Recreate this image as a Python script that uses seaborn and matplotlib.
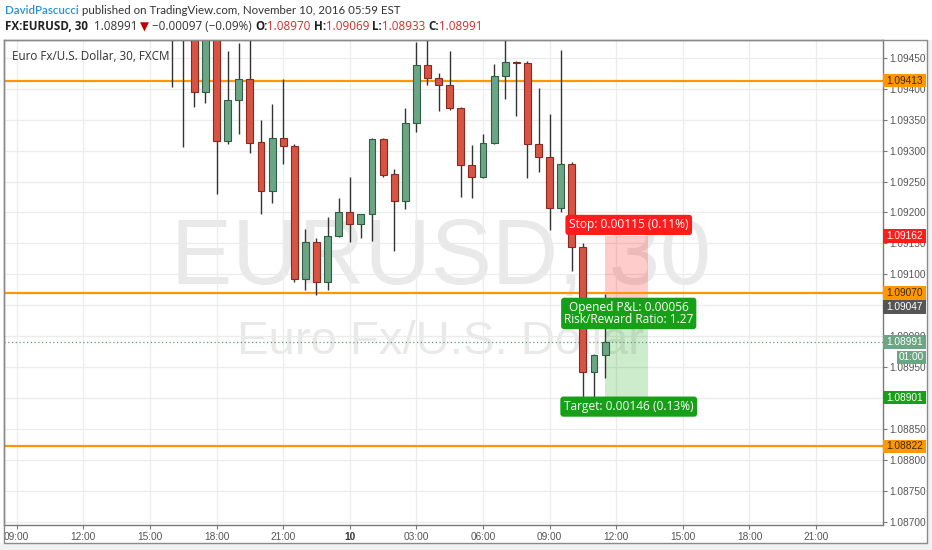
import matplotlib
matplotlib.use("Agg")
import matplotlib.pyplot as plt
import seaborn as sns
import numpy as np
import pandas as pd
from matplotlib.patches import Rectangle
from matplotlib.transforms import blended_transform_factory as blend

# ---------------- data ----------------
# 30-minute bars, index counted from Nov 9 09:00
bar_index = list(range(14, 54))
open_ = [1.09500, 1.09525, 1.09510, 1.09395, 1.09500, 1.09315, 1.09382, 1.09415,
         1.09314, 1.09234, 1.09320, 1.09308, 1.09092, 1.09153, 1.09088, 1.09162,
         1.09200, 1.09181, 1.09197, 1.09319, 1.09262, 1.09219, 1.09344, 1.09438,
         1.09417, 1.09406, 1.09369, 1.09276, 1.09258, 1.09312, 1.09421, 1.09443,
         1.09442, 1.09311, 1.09290, 1.09207, 1.09278, 1.09145, 1.08942, 1.08970]
high_ = [1.09540, 1.09545, 1.09520, 1.09510, 1.09520, 1.09461, 1.09473, 1.09482,
         1.09349, 1.09376, 1.09415, 1.09310, 1.09174, 1.09158, 1.09193, 1.09224,
         1.09258, 1.09198, 1.09320, 1.09320, 1.09271, 1.09368, 1.09475, 1.09480,
         1.09426, 1.09461, 1.09370, 1.09309, 1.09327, 1.09440, 1.09485, 1.09445,
         1.09444, 1.09401, 1.09359, 1.09462, 1.09282, 1.09150, 1.08971, 1.09069]
low_ = [1.09403, 1.09305, 1.09370, 1.09377, 1.09230, 1.09311, 1.09327, 1.09296,
        1.09198, 1.09215, 1.09278, 1.09088, 1.09074, 1.09067, 1.09074, 1.09160,
        1.09152, 1.09158, 1.09154, 1.09258, 1.09138, 1.09205, 1.09330, 1.09406,
        1.09364, 1.09365, 1.09225, 1.09223, 1.09255, 1.09310, 1.09383, 1.09356,
        1.09255, 1.09266, 1.09172, 1.09201, 1.09106, 1.08897, 1.08897, 1.08933]
close_ = [1.09525, 1.09510, 1.09395, 1.09500, 1.09315, 1.09382, 1.09415, 1.09313,
          1.09234, 1.09320, 1.09308, 1.09092, 1.09153, 1.09088, 1.09162, 1.09200,
          1.09181, 1.09197, 1.09319, 1.09260, 1.09219, 1.09344, 1.09438, 1.09417,
          1.09406, 1.09369, 1.09276, 1.09258, 1.09312, 1.09421, 1.09443, 1.09442,
          1.09311, 1.09290, 1.09207, 1.09278, 1.09145, 1.08942, 1.08970, 1.08991]

time_tick_index = [0, 6, 12, 18, 24, 30, 36, 42, 48, 54, 60, 66, 72]
time_tick_labels = ["09:00", "12:00", "15:00", "18:00", "21:00", "10", "03:00",
                    "06:00", "09:00", "12:00", "15:00", "18:00", "21:00"]
price_ticks = [1.08700, 1.08750, 1.08800, 1.08850, 1.08900, 1.08950, 1.09000,
               1.09050, 1.09100, 1.09150, 1.09200, 1.09250, 1.09300, 1.09350,
               1.09400, 1.09450]

orange_levels = [1.09413, 1.09070, 1.08822]
entry_price = 1.09047
stop_price = 1.09162
target_price = 1.08901
last_price = 1.08991
pos_start, pos_end = 52.95, 56.9
countdown = "01:00"

stop_text = "Stop: 0.00115 (0.11%)"
pnl_text = "Opened P&L: 0.00056\nRisk/Reward Ratio: 1.27"
target_text = "Target: 0.00146 (0.13%)"

# ---------------- style ----------------
sns.set_style("white")
plt.rcParams['font.family'] = ['Liberation Sans', 'DejaVu Sans']

W, H = 932, 550
fig = plt.figure(figsize=(W / 100, H / 100), dpi=100)
fig.patch.set_facecolor("white")

# plot area in pixels
PL, PR, PT, PB = 4, 882.7, 40, 525
FR, FB = 927, 543
ax = fig.add_axes([PL / W, 1 - PB / H, (PR - PL) / W, (PB - PT) / H])
ax.set_xlim(-1.144, 78.0)
ax.set_ylim(1.086952, 1.094786)

RED = "#D75442"
GREEN = "#6BA583"
RED_EDGE = "#8a2a1e"
GREEN_EDGE = "#2f5e43"

df = pd.DataFrame(dict(i=bar_index, o=open_, h=high_, l=low_, c=close_))
df["up"] = df.c >= df.o
face = np.where(df.up, GREEN, RED)
edge = np.where(df.up, GREEN_EDGE, RED_EDGE)
bottom = np.minimum(df.o, df.c)
height = np.maximum(np.abs(df.c - df.o), 0.000015)

# watermark
ax.text(0.497, 0.547, "EURUSD, 30", transform=ax.transAxes, ha="center",
        va="center", fontsize=66, color="#e9e9e9", zorder=0.5)
ax.text(0.497, 0.378, "Euro Fx/U.S. Dollar", transform=ax.transAxes, ha="center",
        va="center", fontsize=34, color="#e9e9e9", zorder=0.5)

# grid
ax.set_xticks(time_tick_index)
ax.set_yticks(price_ticks)
ax.grid(True, color="#ececec", lw=0.9)
ax.set_axisbelow(True)

# candles
ax.vlines(df.i, df.l, df.h, color="#333333", lw=1.0, zorder=3)
ax.bar(df.i, height, bottom=bottom, width=0.62, color=face, edgecolor=edge,
       lw=0.8, zorder=4)

# horizontal levels
for lv in orange_levels:
    ax.axhline(lv, color="#FF9800", lw=1.6, zorder=2.5)
ax.axhline(last_price, color="#5d9c78", lw=0.9, ls=(0, (1, 2)), zorder=2.6)

# position zones
ax.add_patch(Rectangle((pos_start, entry_price), pos_end - pos_start,
                       stop_price - entry_price, facecolor="#ff0000", alpha=0.2,
                       lw=0, zorder=2))
ax.add_patch(Rectangle((pos_start, target_price), pos_end - pos_start,
                       entry_price - target_price, facecolor="#00a000", alpha=0.2,
                       lw=0, zorder=2))

lab_x = (pos_start + pos_end) / 2 + 0.2
box_kw = dict(ha="center", va="center", color="white", fontsize=8.6,
              family=["Open Sans", "DejaVu Sans"], zorder=10,
              textcoords="offset points", annotation_clip=False)
ax.annotate(stop_text, xy=(lab_x, stop_price), xytext=(0, 8),
            bbox=dict(boxstyle="round,pad=0.3,rounding_size=0.25", fc="#ff1c1c", ec="none"),
            **box_kw)
ax.annotate(pnl_text, xy=(lab_x, entry_price), xytext=(0, -4.5), linespacing=0.95,
            bbox=dict(boxstyle="round,pad=0.25,rounding_size=0.25", fc="#17a017", ec="none"),
            **box_kw)
ax.annotate(target_text, xy=(lab_x, target_price), xytext=(0, -6.5),
            bbox=dict(boxstyle="round,pad=0.3,rounding_size=0.25", fc="#17a017", ec="none"),
            **box_kw)

# axes ticks
ax.yaxis.tick_right()
ax.set_yticklabels([f"{p:.5f}" for p in price_ticks])
ax.set_xticklabels(time_tick_labels)
ax.tick_params(axis="y", direction="out", length=3, pad=2, labelsize=7.3,
               color="#777777", labelcolor="#555555", right=True, left=False)
ax.tick_params(axis="x", direction="out", length=3, pad=2, labelsize=7.3,
               color="#777777", labelcolor="#555555", bottom=True)
for lbl in ax.get_xticklabels():
    if lbl.get_text() == "10":
        lbl.set_fontweight("bold")
        lbl.set_color("#333333")
for s in ax.spines.values():
    s.set_color("#7a7a7a")
    s.set_linewidth(1.0)

# outer frame and surrounding strip
fig.add_artist(Rectangle((0, 0), 1, (H - FB) / H, transform=fig.transFigure,
                         fc="#f0f2f4", ec="none", zorder=0.1))
fig.add_artist(Rectangle((FR / W, 0), (W - FR) / W, (H - PT) / H, transform=fig.transFigure,
                         fc="#f0f2f4", ec="none", zorder=0.1))
fig.add_artist(Rectangle((PL / W, 1 - FB / H), (FR - PL) / W, (FB - PT) / H,
                         transform=fig.transFigure, fill=False, ec="#8a8a8a", lw=1.0,
                         zorder=5))

# price axis label boxes
tr = blend(fig.transFigure, ax.transData)
ppu = (PB - PT) / (1.094786 - 1.086952)  # pixels per price unit
bh = 13.5 / ppu


def price_box(price, fc, tc, x0=PR + 0.5, text=None, dy=0.0):
    yc = price + dy
    fig.add_artist(Rectangle((x0 / W, yc - bh / 2), (FR - 1 - x0) / W, bh, transform=tr,
                             fc=fc, ec="none", zorder=6))
    fig.text((x0 + 3.5) / W if text is None else (x0 + (FR - 1 - x0) / 2) / W, yc,
             f"{price:.5f}" if text is None else text, transform=tr,
             ha="left" if text is None else "center", va="center",
             fontsize=7.3, color=tc, zorder=7)


for lv in orange_levels:
    price_box(lv, "#FF9800", "#3a2a10")
price_box(stop_price, "#ff1c1c", "white")
price_box(entry_price, "#555555", "white")
price_box(last_price, "#6BA583", "white")
price_box(last_price, "#6BA583", "white", x0=897, text=countdown, dy=-15.5 / ppu)
price_box(target_price, "#17a017", "white")

# chart title inside
ax.text(8 / (PR - PL), 1 - 16 / (PB - PT), "Euro Fx/U.S. Dollar, 30, FXCM",
        transform=ax.transAxes, ha="left", va="center", fontsize=8.4,
        family=["Open Sans", "DejaVu Sans"], color="#333333", zorder=8)

# header (each line fitted to the width it spans in the reference)
renderer = fig.canvas.get_renderer()


def seq_text(x_px, y_px, parts, size, family):
    x = x_px
    made = []
    for s, kw in parts:
        t = fig.text(x / W, 1 - y_px / H, s, ha="left", va="center",
                     family=family, fontsize=size, **kw)
        made.append(t)
        bb = t.get_window_extent(renderer=renderer)
        x += bb.width
    return x, made


def fitted_line(x_px, y_px, x_end, parts, size, family):
    for _ in range(3):
        end, made = seq_text(x_px, y_px, parts, size, family)
        if abs(end - x_end) < 1.5:
            return
        for t in made:
            t.remove()
        size *= (x_end - x_px) / (end - x_px)
    seq_text(x_px, y_px, parts, size, family)


HF = ["Open Sans", "DejaVu Sans"]
fitted_line(5, 10, 399,
            [("DavidPascucci", dict(color="#2b8fd6", fontweight="semibold")),
             (" published on TradingView.com, November 10, 2016 05:59 EST",
              dict(color="#333333"))], 8.0, ["Lato", "DejaVu Sans"])
RV = "#c8302c"
B = dict(color="#222222", fontweight="bold")
fitted_line(5, 27, 481,
            [("FX:EURUSD, 30", B),
             ("  1.08991 ", dict(color="#333333")),
             ("▼", dict(color="#c00000")),
             (" −0.00097 (−0.09%) ", dict(color="#333333")),
             ("O:", B), ("1.08970 ", dict(color=RV)),
             ("H:", B), ("1.09069 ", dict(color=RV)),
             ("L:", B), ("1.08933 ", dict(color=RV)),
             ("C:", B), ("1.08991", dict(color=RV))], 8.6, HF)

fig.savefig("out.png", dpi=100, facecolor=fig.get_facecolor())
